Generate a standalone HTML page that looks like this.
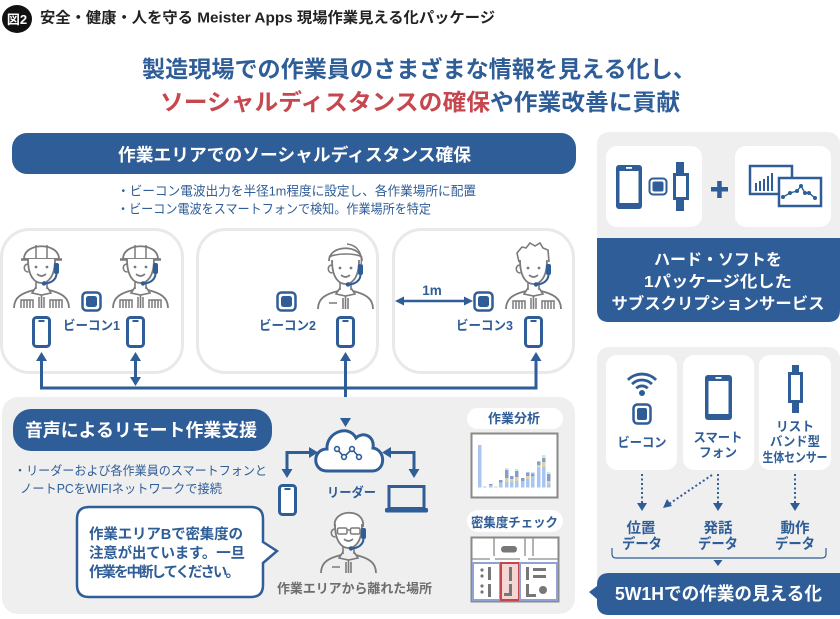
<!DOCTYPE html>
<html><head><meta charset="utf-8">
<style>
html,body{margin:0;padding:0;background:#fff;}
body{width:840px;height:619px;overflow:hidden;}
svg{display:block;}
text{font-family:"Liberation Sans","Noto Sans CJK JP",sans-serif;}
</style></head>
<body>
<svg width="840" height="619" viewBox="0 0 840 619" xmlns="http://www.w3.org/2000/svg">
<defs>
  <g id="body">
    <path d="M15,21 C15,39 22,45 28.5,45 C35,45 42,39 42,21" fill="#fff" stroke="#7b7b7b" stroke-width="1.8"/>
    <path d="M15,26 C10,26 10,34 15.5,34" fill="none" stroke="#7b7b7b" stroke-width="1.6"/>
    <circle cx="23" cy="29" r="1.4" fill="#7b7b7b"/>
    <circle cx="34" cy="29" r="1.4" fill="#7b7b7b"/>
    <path d="M24,36 Q28.5,40 33,36" fill="none" stroke="#7b7b7b" stroke-width="1.6"/>
    <path d="M23,43 L23,51 M34,43 L34,51" stroke="#7b7b7b" stroke-width="1.6" fill="none"/>
    <path d="M23,49 L19,55 L28.5,57 L38,55 L34,49 M28.5,57 L28.5,70" stroke="#7b7b7b" stroke-width="1.6" fill="none"/>
    <path d="M1,70 C1,59 9,55 21,52 M36,52 C48,55 56,59 56,70" stroke="#7b7b7b" stroke-width="1.8" fill="none"/>
    <rect x="41" y="25" width="5" height="11" rx="2" fill="#2f5d97"/>
    <path d="M43.5,36 C43,42 38,45 32,45.5" stroke="#2f5d97" stroke-width="2" fill="none"/>
    <circle cx="31" cy="45.5" r="2.2" fill="#2f5d97"/>
  </g>
  <g id="mlm">
    <path d="M8,70 L8,62 L20,62 L20,70 M11,62 L11,70 M14,62 L14,70 M17,62 L17,70 M26,70 L26,59 M31,70 L31,59 M37,70 L37,62 L49,62 L49,70 M40,62 L40,70 M43,62 L43,70 M46,62 L46,70" stroke="#7b7b7b" stroke-width="1.5" fill="none"/>
  </g>
  <g id="helmet">
    <path d="M11,21 C11,4 46,4 46,21 Z" fill="#fff" stroke="#7b7b7b" stroke-width="1.8"/>
    <path d="M8,21.5 L49,21.5" stroke="#7b7b7b" stroke-width="2.5"/>
    <path d="M23,7 L23,20 M34,7 L34,20" stroke="#7b7b7b" stroke-width="1.5"/>
  </g>
  <g id="phone">
    <rect x="1.5" y="1.5" width="16" height="29" rx="3" fill="#fff" stroke="#2f5d97" stroke-width="3"/>
    <rect x="6.5" y="4" width="6" height="2" fill="#2f5d97"/>
  </g>
  <g id="beacon">
    <rect x="1.5" y="1.5" width="18" height="18" rx="4" fill="#fff" stroke="#2f5d97" stroke-width="2.5"/>
    <rect x="5" y="5" width="11" height="11" rx="2.5" fill="#2f5d97"/>
  </g>
</defs>

<!-- header -->
<ellipse cx="17" cy="19" rx="15" ry="14" fill="#111"/>
<text x="17" y="24" font-size="13" font-weight="700" fill="#fff" text-anchor="middle">図2</text>
<text x="40" y="22.5" font-size="15" font-weight="700" fill="#222" textLength="455" lengthAdjust="spacingAndGlyphs">安全・健康・人を守る Meister Apps 現場作業見える化パッケージ</text>

<!-- title -->
<text x="142" y="77" font-size="23" font-weight="700" fill="#2f5d97" textLength="554" lengthAdjust="spacingAndGlyphs">製造現場での作業員のさまざまな情報を見える化し、</text>
<text x="160" y="110" font-size="23" font-weight="700" fill="#2f5d97" textLength="520" lengthAdjust="spacingAndGlyphs"><tspan fill="#c7474e">ソーシャルディスタンスの確保</tspan>や作業改善に貢献</text>

<!-- top banner -->
<rect x="12" y="133" width="564" height="41" rx="15" fill="#2f5d97"/>
<text x="118" y="161" font-size="17.5" font-weight="700" fill="#fff" textLength="353" lengthAdjust="spacingAndGlyphs">作業エリアでのソーシャルディスタンス確保</text>
<text x="117" y="195.5" font-size="13" fill="#2f5d97" textLength="359" lengthAdjust="spacingAndGlyphs">・ビーコン電波出力を半径1m程度に設定し、各作業場所に配置</text>
<text x="117" y="213.5" font-size="13" fill="#2f5d97" textLength="314" lengthAdjust="spacingAndGlyphs">・ビーコン電波をスマートフォンで検知。作業場所を特定</text>

<!-- three area boxes -->
<rect x="1.5" y="229.5" width="181" height="143" rx="28" fill="#fff" stroke="#e9e9e9" stroke-width="3"/>
<rect x="197.5" y="229.5" width="180" height="143" rx="28" fill="#fff" stroke="#e9e9e9" stroke-width="3"/>
<rect x="393.5" y="229.5" width="180" height="143" rx="28" fill="#fff" stroke="#e9e9e9" stroke-width="3"/>

<!-- box1 workers -->
<g transform="translate(13,238)"><use href="#helmet"/><use href="#body"/><use href="#mlm"/></g>
<g transform="translate(112,238)"><use href="#helmet"/><use href="#body"/><use href="#mlm"/></g>
<use href="#beacon" x="81" y="291"/>
<text x="63" y="330" font-size="13" font-weight="700" fill="#2f5d97" textLength="57" lengthAdjust="spacingAndGlyphs">ビーコン1</text>
<use href="#phone" x="32" y="316"/>
<use href="#phone" x="126" y="316"/>

<!-- box2 -->
<use href="#beacon" x="276" y="291"/>
<text x="259" y="330" font-size="13" font-weight="700" fill="#2f5d97" textLength="57" lengthAdjust="spacingAndGlyphs">ビーコン2</text>
<g transform="translate(317,239)">
  <path d="M12,22 C12,5 45,5 45,22" fill="#fff" stroke="#7b7b7b" stroke-width="1.8"/>
  <path d="M12,18 C20,14 38,14 45,18" fill="none" stroke="#7b7b7b" stroke-width="1.6"/>
  <use href="#body"/>
  <path d="M44,26 C46,14 40,6 30,5" fill="none" stroke="#7b7b7b" stroke-width="1.4"/>
  <path d="M12,64 L20,64 M26,70 L26,59 M31,70 L31,59" stroke="#7b7b7b" stroke-width="1.6"/>
</g>
<use href="#phone" x="336" y="316"/>

<!-- box3 -->
<path d="M403,301 L465,301" stroke="#2f5d97" stroke-width="2.5"/>
<polygon points="395,301 404,296.5 404,305.5" fill="#2f5d97"/>
<polygon points="473,301 464,296.5 464,305.5" fill="#2f5d97"/>
<text x="432" y="295" font-size="13.5" font-weight="700" fill="#2f5d97" text-anchor="middle">1m</text>
<use href="#beacon" x="473" y="291"/>
<text x="456" y="330" font-size="13" font-weight="700" fill="#2f5d97" textLength="57" lengthAdjust="spacingAndGlyphs">ビーコン3</text>
<g transform="translate(505,239)">
  <path d="M14,23 L12,14 L17,8 L21,9 L25,4 L30,7 L35,4 L38,9 L43,11 L44,23" fill="#fff" stroke="#7b7b7b" stroke-width="1.6"/>
  <use href="#body"/><use href="#mlm"/>
</g>
<use href="#phone" x="524" y="316"/>

<!-- connectors top -->
<g stroke="#2f5d97" stroke-width="3" fill="none">
  <path d="M41.5,358 L41.5,388 L536,388 L536,358"/>
  <path d="M135.5,358 L135.5,380"/>
  <path d="M345.5,358 L345.5,419"/>
</g>
<g fill="#2f5d97">
  <polygon points="41.5,352 36,361 47,361"/>
  <polygon points="135.5,352 130,361 141,361"/>
  <polygon points="135.5,386 130,377 141,377"/>
  <polygon points="345.5,352 340,361 351,361"/>
  <polygon points="536,352 530.5,361 541.5,361"/>
</g>

<!-- bottom-left panel -->
<rect x="2" y="397" width="573" height="217" rx="16" fill="#efefef"/>
<polygon points="345.5,427 340,418 351,418" fill="#2f5d97"/>
<rect x="13" y="409" width="259" height="42" rx="18" fill="#2f5d97"/>
<text x="25" y="436.5" font-size="18" font-weight="700" fill="#fff" textLength="232" lengthAdjust="spacingAndGlyphs">音声によるリモート作業支援</text>
<text x="14" y="475" font-size="12.5" fill="#2f5d97" textLength="253" lengthAdjust="spacingAndGlyphs">・リーダーおよび各作業員のスマートフォンと</text>
<text x="20" y="493" font-size="12.5" fill="#2f5d97" textLength="202" lengthAdjust="spacingAndGlyphs">ノートPCをWIFIネットワークで接続</text>

<!-- speech bubble -->
<path d="M89,507 L251,507 Q263,507 263,519 L263,542 L277,551 L263,563 L263,585 Q263,597 251,597 L89,597 Q77,597 77,585 L77,519 Q77,507 89,507 Z" fill="#fff" stroke="#2f5d97" stroke-width="2.5"/>
<text x="89" y="539" font-size="14.5" font-weight="700" fill="#2f5d97" textLength="154" lengthAdjust="spacing">作業エリアBで密集度の</text>
<text x="89" y="558" font-size="14.5" font-weight="700" fill="#2f5d97" textLength="156" lengthAdjust="spacing">注意が出ています。一旦</text>
<text x="89" y="577" font-size="14.5" font-weight="700" fill="#2f5d97" textLength="151" lengthAdjust="spacing">作業を中断してください。</text>

<!-- cloud and leader -->
<path d="M327,471 C312,471 312,449 327,449 C326,432 349,424 356,438 C363,431 375,436 373,448 C386,450 386,471 372,471 Z" fill="#fff" stroke="#2f5d97" stroke-width="3"/>
<g stroke="#2f5d97" stroke-width="1.6" fill="#fff">
  <path d="M337,449 L344,457 L352,449 L359,457" fill="none"/>
  <circle cx="337" cy="449" r="2.4"/><circle cx="344" cy="457" r="2.4"/><circle cx="352" cy="449" r="2.4"/><circle cx="359" cy="457" r="2.4"/>
</g>
<g stroke="#2f5d97" stroke-width="3" fill="none">
  <path d="M287,471 L287,452.5 L311,452.5"/>
  <path d="M389,452.5 L414,452.5 L414,471"/>
</g>
<g fill="#2f5d97">
  <polygon points="287,478 281.5,469 292.5,469"/>
  <polygon points="318,452.5 309,447 309,458"/>
  <polygon points="382,452.5 391,447 391,458"/>
  <polygon points="414,478 408.5,469 419.5,469"/>
</g>
<use href="#phone" x="278" y="484"/>
<rect x="389" y="486.5" width="35" height="22" fill="none" stroke="#2f5d97" stroke-width="3"/>
<rect x="385" y="508" width="43" height="4.5" rx="1.5" fill="#2f5d97"/>
<text x="327" y="497" font-size="13" font-weight="700" fill="#2f5d97" textLength="49" lengthAdjust="spacingAndGlyphs">リーダー</text>
<g transform="translate(320,503)">
  <path d="M15,24 C11,6 46,4 43,24" fill="#fff" stroke="#7b7b7b" stroke-width="1.8"/>
  <use href="#body"/>
  <rect x="17.5" y="25" width="9.5" height="6" rx="1.5" fill="#fff" stroke="#7b7b7b" stroke-width="1.5"/>
  <rect x="30.5" y="25" width="9.5" height="6" rx="1.5" fill="#fff" stroke="#7b7b7b" stroke-width="1.5"/>
  <path d="M27,27 L30.5,27" stroke="#7b7b7b" stroke-width="1.4"/>
  <path d="M12,64 L20,64 M26,70 L26,59 M31,70 L31,59" stroke="#7b7b7b" stroke-width="1.6"/>
</g>
<text x="277" y="593" font-size="13" font-weight="700" fill="#6d6d6d" textLength="155" lengthAdjust="spacingAndGlyphs">作業エリアから離れた場所</text>

<!-- analysis panel -->
<rect x="467" y="408" width="96" height="21" rx="10.5" fill="#fff"/>
<text x="488" y="423" font-size="13" font-weight="700" fill="#2f5d97" textLength="52" lengthAdjust="spacingAndGlyphs">作業分析</text>
<rect x="471.5" y="433.5" width="86" height="64" fill="#fff" stroke="#8a8a8a" stroke-width="2"/>
<g>
  <rect x="478" y="445" width="3.5" height="42.5" fill="#a9c6f0"/>
  <rect x="483" y="486.5" width="3.5" height="1" fill="#a9c6f0"/>
  <rect x="489" y="484" width="3.5" height="3.5" fill="#a9c6f0"/><rect x="489" y="484" width="3.5" height="1.2" fill="#8a9ccc"/>
  <rect x="494" y="486.5" width="3.5" height="1" fill="#d8d3a8"/>
  <rect x="499" y="480" width="3.5" height="7.5" fill="#a9c6f0"/><rect x="499" y="480" width="3.5" height="2.5" fill="#8a9ccc"/>
  <rect x="505" y="468" width="3.5" height="19.5" fill="#a9c6f0"/><rect x="505" y="470" width="3.5" height="8" fill="#8a9ccc"/><rect x="505" y="478" width="3.5" height="4" fill="#d8d3a8"/><rect x="505" y="468" width="3.5" height="2" fill="#c8ebe0"/>
  <rect x="510" y="476" width="3.5" height="11.5" fill="#a9c6f0"/><rect x="510" y="476" width="3.5" height="3" fill="#8a9ccc"/><rect x="510" y="479" width="3.5" height="3" fill="#d8d3a8"/>
  <rect x="515" y="469" width="3.5" height="18.5" fill="#a9c6f0"/><rect x="515" y="471" width="3.5" height="6" fill="#8a9ccc"/><rect x="515" y="477" width="3.5" height="4" fill="#d8d3a8"/><rect x="515" y="469" width="3.5" height="2" fill="#c8ebe0"/>
  <rect x="521" y="478" width="3.5" height="9.5" fill="#a9c6f0"/><rect x="521" y="478" width="3.5" height="3" fill="#8a9ccc"/>
  <rect x="526" y="472" width="3.5" height="15.5" fill="#a9c6f0"/><rect x="526" y="473" width="3.5" height="3" fill="#8a9ccc"/><rect x="526" y="476" width="3.5" height="3" fill="#d8d3a8"/>
  <rect x="531" y="472" width="3.5" height="15.5" fill="#a9c6f0"/><rect x="531" y="473" width="3.5" height="3" fill="#8a9ccc"/><rect x="531" y="472" width="3.5" height="1.5" fill="#c8ebe0"/>
  <rect x="537" y="461" width="3.5" height="26.5" fill="#a9c6f0"/><rect x="537" y="462" width="3.5" height="3" fill="#8a9ccc"/><rect x="537" y="465" width="3.5" height="3" fill="#d8d3a8"/>
  <rect x="542" y="455" width="3.5" height="32.5" fill="#a9c6f0"/><rect x="542" y="458" width="3.5" height="4" fill="#8a9ccc"/><rect x="542" y="462" width="3.5" height="5" fill="#d8d3a8"/><rect x="542" y="455" width="3.5" height="3" fill="#c8ebe0"/>
  <rect x="547" y="472" width="3.5" height="15.5" fill="#a9c6f0"/><rect x="547" y="474" width="3.5" height="7" fill="#8a9ccc"/><rect x="547" y="481" width="3.5" height="3" fill="#d8d3a8"/><rect x="547" y="472" width="3.5" height="2" fill="#c8ebe0"/>
</g>
<rect x="467" y="510" width="96" height="22" rx="11" fill="#fff"/>
<text x="471" y="527" font-size="13" font-weight="700" fill="#2f5d97" textLength="87" lengthAdjust="spacingAndGlyphs">密集度チェック</text>
<rect x="471.5" y="537.5" width="87" height="64" fill="#fff" stroke="#8a8a8a" stroke-width="2"/>
<g stroke="#8a8a8a" stroke-width="1.3" fill="none">
  <path d="M494,538 L494,556 M525,538 L525,556 M533,538 L533,556"/>
  <path d="M472,559 L490,559 M495,559 L520,559 M528,559 L558,559"/>
</g>
<rect x="501" y="546" width="16" height="6.5" rx="3.2" fill="#777"/>
<rect x="473" y="563" width="27" height="37" fill="#fff" stroke="#8fa2d6" stroke-width="2"/>
<rect x="501" y="563" width="18" height="37" fill="#f6d5d5" stroke="#c0474c" stroke-width="2"/>
<rect x="520" y="563" width="37" height="37" fill="#fff" stroke="#8fa2d6" stroke-width="2"/>
<g fill="#777">
  <circle cx="482" cy="570" r="1.6"/><circle cx="482" cy="576" r="1.6"/><circle cx="482" cy="586" r="1.6"/><circle cx="482" cy="592" r="1.6"/>
  <rect x="488" y="567" width="3" height="13"/><rect x="488" y="584" width="3" height="13"/>
  <rect x="509" y="567" width="3" height="14"/><rect x="504" y="593" width="8" height="3"/><rect x="509" y="584" width="3" height="12"/>
  <rect x="526" y="567" width="3" height="13"/><rect x="533" y="568" width="13" height="3"/><rect x="533" y="575" width="13" height="3"/>
  <rect x="526" y="584" width="3" height="13"/><rect x="526" y="594" width="10" height="3"/><circle cx="543" cy="590" r="4"/>
</g>

<!-- right top panel -->
<rect x="597" y="132" width="243" height="190" rx="12" fill="#efefef"/>
<path d="M597,238 L840,238 L840,310 Q840,322 828,322 L609,322 Q597,322 597,310 Z" fill="#2f5d97"/>
<rect x="606" y="146" width="96" height="81" rx="11" fill="#fff"/>
<rect x="735" y="146" width="96" height="81" rx="11" fill="#fff"/>
<rect x="616" y="165" width="26" height="44" rx="3" fill="#2f5d97"/>
<rect x="619.5" y="171" width="19" height="32" fill="#fff"/>
<rect x="626" y="167" width="6" height="1.8" fill="#fff"/>
<rect x="649.5" y="178.5" width="17" height="16" rx="3.5" fill="#fff" stroke="#2f5d97" stroke-width="2"/>
<rect x="652.5" y="181.5" width="11" height="10" rx="2" fill="#2f5d97"/>
<rect x="676" y="162" width="8" height="12" fill="#2f5d97"/>
<rect x="676" y="198" width="8" height="13" fill="#2f5d97"/>
<rect x="674.5" y="174.5" width="13" height="24" fill="#fff" stroke="#2f5d97" stroke-width="3"/>
<rect x="711" y="187" width="17" height="4.5" fill="#2f5d97"/>
<rect x="717.2" y="181" width="4.5" height="17" fill="#2f5d97"/>
<rect x="750" y="166" width="42" height="28" fill="#fff" stroke="#2f5d97" stroke-width="2.5"/>
<g fill="#2f5d97"><rect x="755" y="183" width="2" height="8"/><rect x="759" y="181" width="2" height="10"/><rect x="763" y="179" width="2" height="12"/><rect x="767" y="176" width="2" height="15"/><rect x="771" y="173" width="2" height="18"/></g>
<rect x="779" y="178" width="42" height="28" fill="#fff" stroke="#2f5d97" stroke-width="2.5"/>
<path d="M783,197 L790,193 L797,191 L801,186 L805,193 L809,193 L815,198" fill="none" stroke="#2f5d97" stroke-width="1.4"/>
<g fill="#2f5d97"><circle cx="783" cy="197" r="2"/><circle cx="790" cy="193" r="2"/><circle cx="797" cy="191" r="2"/><circle cx="801" cy="186" r="2"/><circle cx="805" cy="193" r="2"/><circle cx="809" cy="193" r="2"/><circle cx="815" cy="198" r="2"/></g>
<text x="718" y="265" font-size="16" font-weight="700" fill="#fff" text-anchor="middle" textLength="128" lengthAdjust="spacingAndGlyphs">ハード・ソフトを</text>
<text x="718" y="287" font-size="16" font-weight="700" fill="#fff" text-anchor="middle" textLength="148" lengthAdjust="spacingAndGlyphs">1パッケージ化した</text>
<text x="718" y="309" font-size="16" font-weight="700" fill="#fff" text-anchor="middle" textLength="213" lengthAdjust="spacingAndGlyphs">サブスクリプションサービス</text>

<!-- right bottom panel -->
<rect x="597" y="347" width="243" height="265" rx="12" fill="#efefef"/>
<rect x="606" y="355" width="71" height="115" rx="11" fill="#fff"/>
<rect x="683" y="355" width="71" height="115" rx="11" fill="#fff"/>
<rect x="759" y="355" width="72" height="115" rx="11" fill="#fff"/>
<!-- wifi beacon -->
<g fill="none" stroke="#2f5d97" stroke-width="2.8" stroke-linecap="butt">
  <path d="M636.3,388.3 A8,8 0 0 1 647.7,388.3"/>
  <path d="M632.1,384.1 A14,14 0 0 1 651.9,384.1"/>
  <path d="M627.9,379.9 A20,20 0 0 1 656.1,379.9"/>
</g>
<circle cx="642" cy="393" r="3" fill="#2f5d97"/>
<rect x="633.5" y="404.5" width="17" height="19" rx="4" fill="#fff" stroke="#2f5d97" stroke-width="2.5"/>
<rect x="637" y="408" width="10" height="12" rx="2" fill="#2f5d97"/>
<text x="642" y="447" font-size="13" font-weight="700" fill="#2f5d97" text-anchor="middle" textLength="49" lengthAdjust="spacingAndGlyphs">ビーコン</text>
<!-- phone -->
<rect x="705" y="375" width="27" height="45" rx="3" fill="#2f5d97"/>
<rect x="708.5" y="381" width="20" height="33" fill="#fff"/>
<rect x="715.5" y="377" width="6" height="1.8" fill="#fff"/>
<text x="718" y="442" font-size="13" font-weight="700" fill="#2f5d97" text-anchor="middle" textLength="49" lengthAdjust="spacingAndGlyphs">スマート</text>
<text x="718" y="457" font-size="13" font-weight="700" fill="#2f5d97" text-anchor="middle" textLength="38" lengthAdjust="spacingAndGlyphs">フォン</text>
<!-- watch -->
<rect x="792" y="365" width="7" height="9" fill="#2f5d97"/>
<rect x="792" y="401" width="7" height="12" fill="#2f5d97"/>
<rect x="789.5" y="373.5" width="12" height="28" fill="#fff" stroke="#2f5d97" stroke-width="3"/>
<text x="795" y="431" font-size="13" font-weight="700" fill="#2f5d97" text-anchor="middle" textLength="38" lengthAdjust="spacingAndGlyphs">リスト</text>
<text x="795" y="446" font-size="13" font-weight="700" fill="#2f5d97" text-anchor="middle" textLength="50" lengthAdjust="spacingAndGlyphs">バンド型</text>
<text x="795" y="462" font-size="13" font-weight="700" fill="#2f5d97" text-anchor="middle" textLength="65" lengthAdjust="spacingAndGlyphs">生体センサー</text>
<!-- dotted arrows -->
<g stroke="#2f5d97" stroke-width="2" stroke-dasharray="2,2.5" fill="none">
  <path d="M642,474 L642,503"/>
  <path d="M718,474 L718,503"/>
  <path d="M795,474 L795,503"/>
  <path d="M712,475 L669,504"/>
</g>
<g fill="#2f5d97">
  <polygon points="642,511 637,503 647,503"/>
  <polygon points="718,511 713,503 723,503"/>
  <polygon points="795,511 790,503 800,503"/>
  <polygon points="663,508 667,499 672,506"/>
</g>
<text x="641" y="533" font-size="14.5" font-weight="700" fill="#2f5d97" text-anchor="middle">位置</text>
<text x="642" y="549" font-size="14.5" font-weight="700" fill="#2f5d97" text-anchor="middle" textLength="40" lengthAdjust="spacingAndGlyphs">データ</text>
<text x="718" y="533" font-size="14.5" font-weight="700" fill="#2f5d97" text-anchor="middle">発話</text>
<text x="718" y="549" font-size="14.5" font-weight="700" fill="#2f5d97" text-anchor="middle" textLength="40" lengthAdjust="spacingAndGlyphs">データ</text>
<text x="795" y="533" font-size="14.5" font-weight="700" fill="#2f5d97" text-anchor="middle">動作</text>
<text x="795" y="549" font-size="14.5" font-weight="700" fill="#2f5d97" text-anchor="middle" textLength="40" lengthAdjust="spacingAndGlyphs">データ</text>
<path d="M612,548 L612,554 Q612,558 616,558 L822,558 Q826,558 826,554 L826,548" fill="none" stroke="#2f5d97" stroke-width="1.2"/>
<polygon points="718,566 713.5,560 722.5,560" fill="#2f5d97"/>
<!-- 5W1H banner -->
<path d="M609,573 L840,573 L840,615 L609,615 Q597,615 597,603 L597,599 L589,592 L597,586 L597,585 Q597,573 609,573 Z" fill="#2f5d97"/>
<text x="615" y="600" font-size="18" font-weight="700" fill="#fff" textLength="207" lengthAdjust="spacingAndGlyphs">5W1Hでの作業の見える化</text>
</svg>
</body></html>
